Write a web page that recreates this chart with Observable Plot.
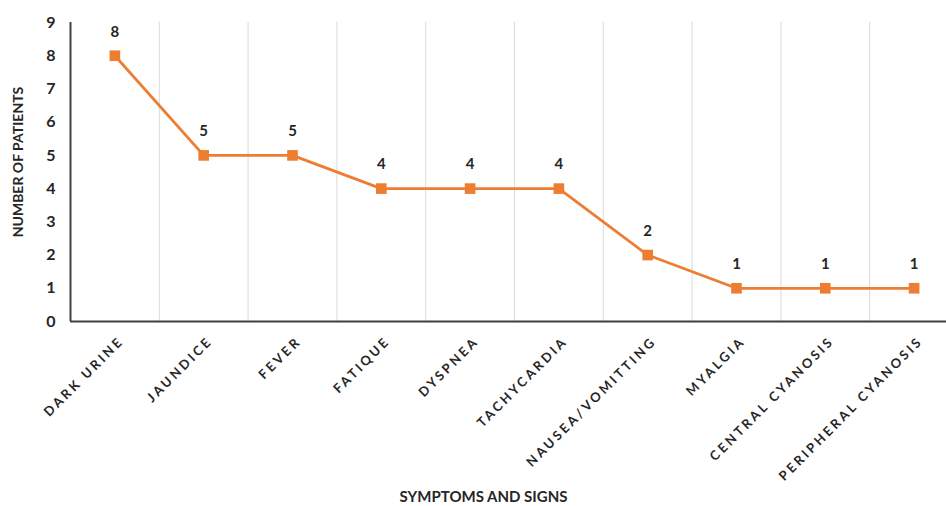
<!DOCTYPE html>
<html>
<head>
<meta charset="utf-8">
<script src="https://cdn.jsdelivr.net/npm/d3@7"></script>
<script src="https://cdn.jsdelivr.net/npm/@observablehq/plot@0.6"></script>
<style>
  html, body { margin: 0; padding: 0; background: #fff; overflow: hidden; }
  #chart svg { overflow: hidden; }
  .xlab text { letter-spacing: 2.8px; }
</style>
</head>
<body>
<div id="chart"></div>
<script>
const categories = ["DARK URINE", "JAUNDICE", "FEVER", "FATIQUE", "DYSPNEA", "TACHYCARDIA", "NAUSEA/VOMITTING", "MYALGIA", "CENTRAL CYANOSIS", "PERIPHERAL CYANOSIS"];
const patients = [8, 5, 5, 4, 4, 4, 2, 1, 1, 1];
const yTicks = [0, 1, 2, 3, 4, 5, 6, 7, 8, 9];
const yTitle = "NUMBER OF PATIENTS";
const xTitle = "SYMPTOMS AND SIGNS";

const data = categories.map((c, i) => ({category: c, value: patients[i]}));

const W = 946, H = 506;
const x0 = 70, x1 = 958;
const step = (x1 - x0) / categories.length;
const orange = "#ED7D31";
const dark = "#262626";
const font = "Lato, 'Open Sans', sans-serif";

const chart = Plot.plot({
  width: W,
  height: H,
  marginLeft: x0,
  marginRight: 0,
  marginTop: 22,
  marginBottom: 185,
  style: {fontFamily: font, background: "#fff"},
  x: {type: "point", domain: categories, range: [x0, x1], padding: 0.5, round: false, axis: null},
  y: {domain: [0, 9], ticks: yTicks, axis: null},
  marks: [
    // vertical gridlines at category boundaries
    Plot.ruleX(categories.slice(1), {dx: -step / 2, y1: 0, y2: 9, stroke: "#d9d9d9", strokeWidth: 1}),
    // y axis line
    Plot.ruleX([categories[0]], {dx: -step / 2, y1: 0, y2: 9, stroke: "#404040", strokeWidth: 2}),
    // x axis line
    Plot.ruleY([0], {stroke: "#404040", strokeWidth: 2}),
    // y tick labels
    Plot.axisY({ticks: yTicks, tickSize: 0, tickPadding: 15, fontSize: 16, fontWeight: "bold", fill: dark, label: null}),
    // y title
    Plot.text([yTitle], {frameAnchor: "left", textAnchor: "middle", dx: -52, dy: -10, rotate: -90, fontSize: 14, fontWeight: "bold", fill: dark}),
    // x tick labels
    Plot.text(categories, {x: d => d, y: 0, dx: 3, dy: 14, rotate: -45, textAnchor: "end", lineAnchor: "top", fontSize: 13, fontWeight: "bold", fill: dark, className: "xlab"}),
    // x title
    Plot.text([xTitle], {frameAnchor: "bottom", textAnchor: "middle", lineAnchor: "middle", dx: -25, dy: 176, fontSize: 15, fontWeight: "bold", fill: dark}),
    // line
    Plot.line(data, {x: "category", y: "value", stroke: orange, strokeWidth: 2.8}),
    Plot.dot(data, {x: "category", y: "value", symbol: "square", r: 6, fill: orange, stroke: "none"}),
    // value labels
    Plot.text(data, {x: "category", y: "value", text: d => String(d.value), dy: -24, fontSize: 15, fontWeight: "bold", fill: dark})
  ]
});
document.getElementById("chart").appendChild(chart);
</script>
</body>
</html>
